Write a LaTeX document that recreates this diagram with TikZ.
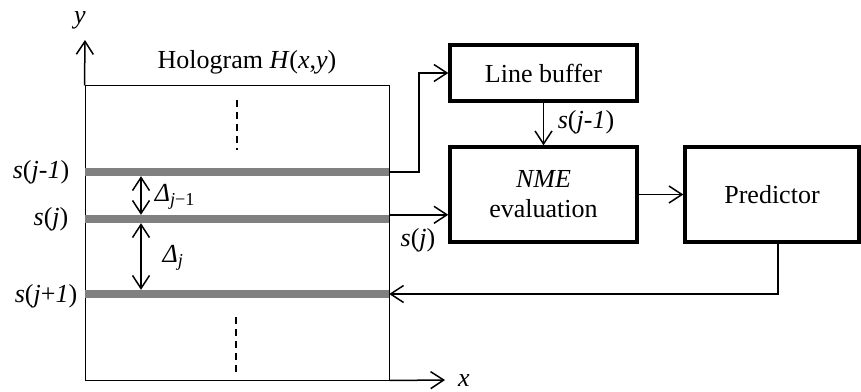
\documentclass[tikz,border=0pt]{standalone}
\usepackage{fontspec}
\setmainfont{Liberation Serif}
\usepackage{tikz}
\usetikzlibrary{positioning, arrows.meta}

\begin{document}
\begin{tikzpicture}[x=1pt, y=1pt, font=\fontsize{26}{30}\selectfont,
    blockbox/.style={draw, line width=3.4pt, inner sep=0pt, align=center},
    band/.style={fill=black!50, minimum width=304pt, minimum height=8pt, inner sep=0pt},
    flow/.style={-{Straight Barb[length=13pt, width=17pt, line width=1.5pt]}, line width=1.5pt},
    dim/.style={{Straight Barb[length=13pt, width=17pt, line width=1.5pt]}-{Straight Barb[length=13pt, width=17pt, line width=1.5pt]}, line width=1.5pt},
    label/.style={inner sep=1pt}]
    \useasboundingbox (0, 0) rectangle (861, 391);

    % Hologram plane
    \node[draw, line width=1pt, minimum width=304pt, minimum height=294pt] (holo) at (237, 158) {};
    \node[label] (holotitle) at (247, 329) {Hologram \textit{H}(\textit{x},\textit{y})};

    % Axes
    \coordinate (ytip) at (85, 351);
    \coordinate (xtip) at (445, 11);
    \draw[flow] (holo.north west) -- (ytip);
    \draw[flow] (holo.south east) -- (xtip);
    \node[label] (ylab) at (80, 371) {\textit{y}};
    \node[label] (xlab) at (464, 10) {\textit{x}};

    % Skipped lines
    \draw[line width=1.5pt, dash pattern=on 7pt off 5pt] (237, 291) -- (237, 241);
    \draw[line width=1.5pt, dash pattern=on 7pt off 5pt] (236, 74) -- (236, 18);

    % Line bands
    \node[band] (bandA) at (237, 219) {};
    \node[band] (bandB) at (237, 172) {};
    \node[band] (bandC) at (237, 97) {};
    \node[label] (labA) at (41, 219) {\textit{s}(\textit{j-1})};
    \node[label] (labB) at (51, 172) {\textit{s}(\textit{j})};
    \node[label] (labC) at (46, 95) {\textit{s}(\textit{j}+\textit{1})};

    % Line spacings
    \coordinate (dimx) at (141, 0);
    \draw[dim] (dimx |- bandA.south) -- (dimx |- bandB.north);
    \draw[dim] (dimx |- bandB.south) -- (dimx |- bandC.north);
    \node[label] (deltaA) at (175, 194) {\textit{Δ}\textsubscript{\textit{j}−1}};
    \node[label] (deltaB) at (173, 133) {\textit{Δ}\textsubscript{\textit{j}}};

    % Processing blocks
    \node[blockbox, minimum width=187pt, minimum height=56pt] (lbuf) at (543.5, 318) {Line buffer};
    \node[blockbox, minimum width=187pt, minimum height=95pt] (nme) at (543.5, 196.5) {\textit{NME}\\evaluation};
    \node[blockbox, minimum width=174pt, minimum height=95pt] (pred) at (772, 196.5) {Predictor};

    % Data flow
    \draw[flow] (bandA.east) -- (419, 219) |- (lbuf.west);
    \draw[flow] (lbuf.south) -- (nme.north);
    \node[label] (prevlab) at (586, 269) {\textit{s}(\textit{j-1})};
    \draw[flow] (bandB.north east) -- (bandB.north east -| nme.west);
    \node[label] (curlab) at (418, 151) {\textit{s}(\textit{j})};
    \draw[flow] (nme.east) -- (pred.west);
    \draw[flow] ([xshift=6pt]pred.south) |- (bandC.east);

\end{tikzpicture}
\end{document}
